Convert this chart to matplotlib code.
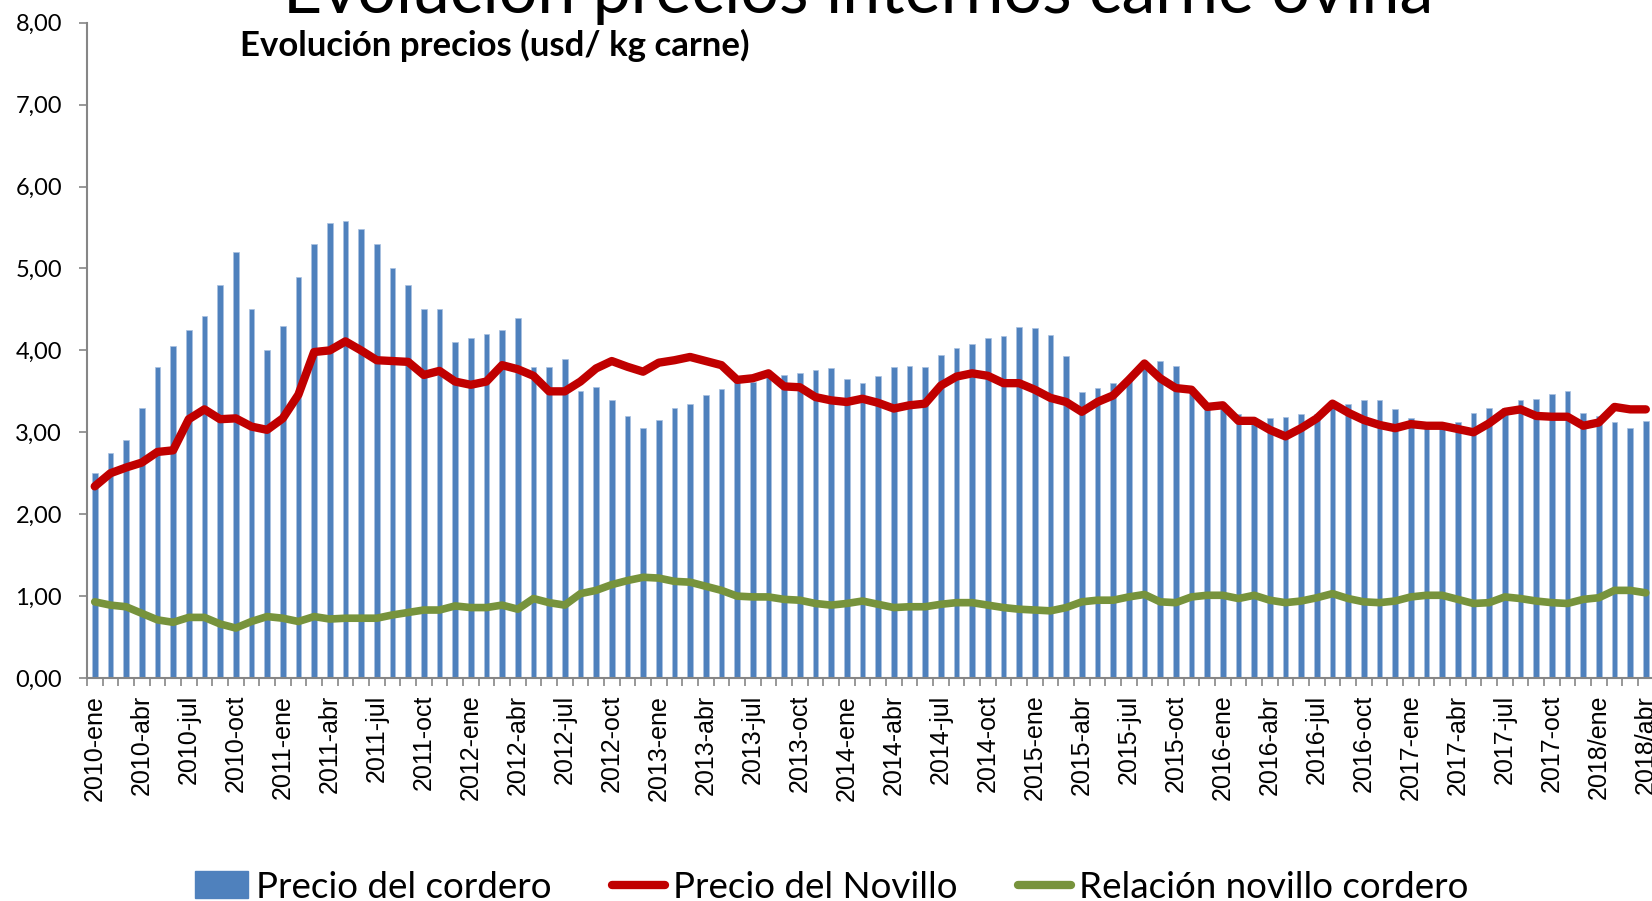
import numpy as np
import matplotlib.pyplot as plt
from matplotlib.ticker import FixedLocator, FuncFormatter
from matplotlib.patches import Patch
from matplotlib.lines import Line2D

# precios mensuales 2010-ene ... 2018-abr (usd / kg carne)
cordero = [2.50, 2.75, 2.90, 3.30, 3.80, 4.05, 4.25, 4.42, 4.80, 5.20,
           4.50, 4.00, 4.30, 4.90, 5.30, 5.55, 5.58, 5.48, 5.30, 5.00,
           4.80, 4.50, 4.50, 4.10, 4.15, 4.20, 4.25, 4.40, 3.80, 3.80,
           3.90, 3.50, 3.55, 3.40, 3.20, 3.05, 3.15, 3.30, 3.35, 3.45,
           3.53, 3.62, 3.62, 3.70, 3.70, 3.73, 3.76, 3.78, 3.65, 3.60,
           3.69, 3.80, 3.81, 3.80, 3.94, 4.03, 4.08, 4.15, 4.18, 4.28,
           4.27, 4.19, 3.93, 3.49, 3.54, 3.60, 3.66, 3.80, 3.87, 3.81,
           3.50, 3.32, 3.30, 3.22, 3.15, 3.17, 3.19, 3.22, 3.22, 3.33,
           3.34, 3.40, 3.39, 3.28, 3.17, 3.10, 3.08, 3.13, 3.23, 3.30,
           3.30, 3.39, 3.41, 3.47, 3.50, 3.24, 3.20, 3.12, 3.05, 3.14]
novillo = [2.34, 2.50, 2.57, 2.63, 2.76, 2.78, 3.16, 3.28, 3.16, 3.17,
           3.07, 3.03, 3.17, 3.46, 3.98, 4.00, 4.11, 4.00, 3.88, 3.87,
           3.86, 3.70, 3.75, 3.62, 3.58, 3.62, 3.82, 3.77, 3.69, 3.50,
           3.50, 3.62, 3.78, 3.87, 3.80, 3.74, 3.85, 3.88, 3.92, 3.87,
           3.82, 3.64, 3.66, 3.72, 3.56, 3.55, 3.43, 3.39, 3.37, 3.41,
           3.36, 3.29, 3.33, 3.35, 3.57, 3.68, 3.72, 3.69, 3.60, 3.60,
           3.52, 3.42, 3.37, 3.25, 3.37, 3.45, 3.64, 3.84, 3.66, 3.54,
           3.52, 3.31, 3.33, 3.14, 3.14, 3.03, 2.95, 3.05, 3.17, 3.35,
           3.24, 3.15, 3.09, 3.05, 3.10, 3.08, 3.08, 3.04, 3.00, 3.11,
           3.25, 3.28, 3.20, 3.19, 3.19, 3.08, 3.12, 3.31, 3.28, 3.28]
relacion = [0.93, 0.89, 0.87, 0.79, 0.71, 0.68, 0.74, 0.74, 0.66, 0.61,
            0.69, 0.75, 0.73, 0.69, 0.75, 0.72, 0.73, 0.73, 0.73, 0.77,
            0.80, 0.83, 0.83, 0.88, 0.86, 0.86, 0.89, 0.84, 0.97, 0.92,
            0.89, 1.03, 1.07, 1.14, 1.19, 1.23, 1.22, 1.18, 1.17, 1.12,
            1.07, 1.00, 0.99, 0.99, 0.96, 0.95, 0.91, 0.89, 0.91, 0.94,
            0.90, 0.86, 0.87, 0.87, 0.90, 0.92, 0.92, 0.89, 0.86, 0.84,
            0.83, 0.82, 0.86, 0.93, 0.95, 0.95, 0.99, 1.02, 0.93, 0.92,
            0.99, 1.01, 1.01, 0.97, 1.01, 0.95, 0.92, 0.94, 0.98, 1.03,
            0.97, 0.93, 0.92, 0.94, 0.99, 1.01, 1.01, 0.96, 0.91, 0.92,
            0.99, 0.97, 0.94, 0.92, 0.91, 0.96, 0.98, 1.07, 1.07, 1.04]
etiquetas = ["2010-ene", "2010-abr", "2010-jul", "2010-oct",
             "2011-ene", "2011-abr", "2011-jul", "2011-oct",
             "2012-ene", "2012-abr", "2012-jul", "2012-oct",
             "2013-ene", "2013-abr", "2013-jul", "2013-oct",
             "2014-ene", "2014-abr", "2014-jul", "2014-oct",
             "2015-ene", "2015-abr", "2015-jul", "2015-oct",
             "2016-ene", "2016-abr", "2016-jul", "2016-oct",
             "2017-ene", "2017-abr", "2017-jul", "2017-oct",
             "2018/ene", "2018/abr"]

meses = np.arange(len(cordero))

AZUL = "#4F81BD"
ROJO = "#C00000"
VERDE = "#77933C"
GRIS = "#868686"

fig = plt.figure(figsize=(16.52, 9.01), dpi=100)
ax = fig.add_axes([0.0526, 0.2475, 0.9484, 0.7272])

ax.bar(meses, cordero, width=0.36, color=AZUL, edgecolor="#A9C1E0", linewidth=0.5)
ax.plot(meses, novillo, color=ROJO, lw=6, solid_joinstyle="round", solid_capstyle="round")
ax.plot(meses, relacion, color=VERDE, lw=5.5, solid_joinstyle="round", solid_capstyle="round")

ax.set_xlim(-0.5, len(cordero) - 0.5)
ax.set_ylim(0, 8)

for s in ["top", "right"]:
    ax.spines[s].set_visible(False)
for s in ["left", "bottom"]:
    ax.spines[s].set_color(GRIS)
    ax.spines[s].set_linewidth(1.5)

ax.yaxis.set_major_locator(FixedLocator(np.arange(0, 9, 1)))
ax.yaxis.set_major_formatter(FuncFormatter(lambda v, p: f"{v:.2f}".replace(".", ",")))
ax.tick_params(axis="y", direction="out", length=6, width=1.2, color=GRIS, pad=12)
for t in ax.get_yticklabels():
    t.set_fontfamily("Lato")
    t.set_fontsize(17)

ax.set_xticks(meses[::3])
ax.set_xticklabels(etiquetas, rotation=90, fontsize=18, fontfamily="Liberation Sans")
ax.set_xticks(np.arange(-0.5, len(cordero), 1), minor=True)
ax.tick_params(axis="x", which="major", length=0, pad=12)
ax.tick_params(axis="x", which="minor", direction="out", length=6, width=1.2, color=GRIS)

# titulos
fig.text(858 / 1652, 1 - 13 / 901, "Evolución precios internos carne ovina",
         ha="center", va="baseline", fontsize=49, fontfamily="Lato")
fig.text(240 / 1652, 1 - 56 / 901, "Evolución precios (usd/ kg carne)",
         ha="left", va="baseline", fontsize=25, fontweight="bold", fontfamily="Lato")

handles = [Patch(facecolor=AZUL, edgecolor=AZUL),
           Line2D([], [], color=ROJO, lw=6, solid_capstyle="round"),
           Line2D([], [], color=VERDE, lw=6, solid_capstyle="round")]
nombres = ["Precio del cordero", "Precio del Novillo", "Relación novillo cordero"]
fig.legend(handles, nombres, loc="lower left", bbox_to_anchor=(195 / 1652, -0.003),
           ncol=3, frameon=False, prop={"family": "Lato", "size": 26.5},
           borderpad=0, borderaxespad=0,
           handlelength=1.45, handleheight=0.75, handletextpad=0.2, columnspacing=1.65)

plt.savefig("out.png", dpi=100)
